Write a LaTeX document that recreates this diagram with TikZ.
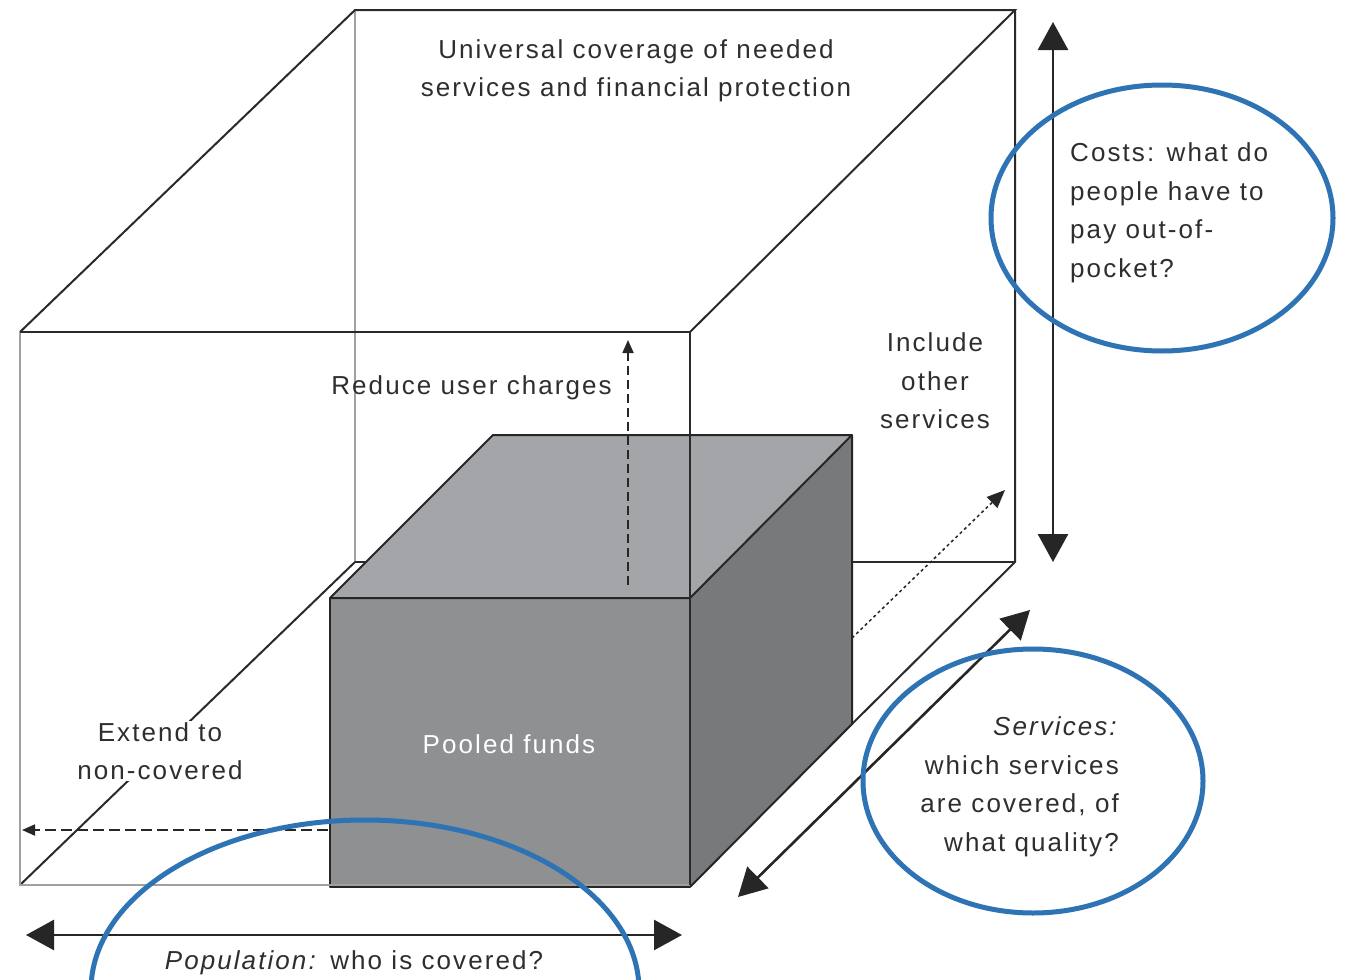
\documentclass[tikz,border=0pt]{standalone}
\usepackage{fontspec}
\setmainfont{Liberation Sans}[LetterSpace=8]
\usetikzlibrary{arrows.meta}
\definecolor{ink}{HTML}{2E2E2E}
\definecolor{wire}{HTML}{2A2A2A}
\definecolor{wirelight}{HTML}{A0A0A0}
\definecolor{frontgray}{HTML}{8E9092}
\definecolor{topgray}{HTML}{A3A5A8}
\definecolor{sidegray}{HTML}{77797B}
\definecolor{ringblue}{HTML}{2E74B5}
\begin{document}
\begin{tikzpicture}[x=1pt,y=-1pt,
  lbl/.style={text=ink,font=\fontsize{26}{38.5}\selectfont,inner sep=2pt},
  wireedge/.style={draw=wire,line width=2pt},
  faintedge/.style={draw=wirelight,line width=2.6pt},
  boxedge/.style={draw=black!85,line width=2pt,line join=round},
  dimarrow/.style={draw=black!85,line width=2.6pt,
    {Triangle[length=28pt,width=30pt]}-{Triangle[length=28pt,width=30pt]}},
  hintarrow/.style={draw=black!85,line width=1.8pt,-{Triangle[length=13pt,width=11pt]}},
  ring/.style={draw=ringblue,line width=5pt}]
\useasboundingbox (0,0) rectangle (1345,980);
\fill[white] (0,0) rectangle (1345,980);

% outer (target) box corners
\coordinate (FTL) at (20,332);  \coordinate (FTR) at (690,332);
\coordinate (FBL) at (20,885);  \coordinate (FBR) at (690,885);
\coordinate (BTL) at (355,10);  \coordinate (BTR) at (1015,10);
\coordinate (BBL) at (355,562); \coordinate (BBR) at (1015,562);

% inner (pooled funds) box corners
\coordinate (pTL) at (330,598); \coordinate (pTR) at (690,598);
\coordinate (pBL) at (330,887); \coordinate (pBR) at (690,887);
\coordinate (qTL) at (493,435); \coordinate (qTR) at (852,435);
\coordinate (qBR) at (852,724);

% hidden edges of the outer box
\draw[faintedge] (BTL) -- (BBL);
\draw[wireedge] (BBL) -- (BBR);
\draw[wireedge] (FBL) -- (BBL);
% back and top edges of the outer box
\draw[wireedge] (FTL) -- (BTL) -- (BTR) -- (FTR);
\draw[wireedge] (BTR) -- (BBR) -- (FBR);

% pooled funds box
\fill[topgray] (pTL) -- (qTL) -- (qTR) -- (pTR) -- cycle;
\fill[sidegray] (pTR) -- (qTR) -- (qBR) -- (pBR) -- cycle;
\fill[frontgray] (pTL) rectangle (pBR);
\draw[boxedge] (pTL) -- (qTL) -- (qTR) -- (pTR) -- cycle;
\draw[boxedge] (qTR) -- (qBR) -- (pBR);
\draw[boxedge] (pTL) rectangle (pBR);

% front face of the outer box
\draw[faintedge] (FTL) -- (FBL) -- (FBR);
\draw[wireedge] (FTL) -- (FTR) -- (FBR);

% labels
\node[lbl,align=center] (title) at (636,71) {Universal coverage of needed\\services and financial protection};
\node[lbl,anchor=east] (reduce) at (614,388) {Reduce user charges};
\node[lbl,align=center] (include) at (935,381) {Include\\other\\services};
\node[lbl,align=center,fill=white,inner sep=1pt] (extend) at (160,751) {Extend to\\non-covered};
\node[lbl,text=white] (pooled) at (509,744) {Pooled funds};
\node[lbl,align=left,anchor=west] (costs) at (1068,213) {Costs: what do\\people have to\\pay out-of-\\pocket?};
\node[lbl,align=right,anchor=east] (services) at (1121,787) {\textit{Services:}\\which services\\are covered, of\\what quality?};
\node[lbl] (population) at (354,963) {\textit{Population:} who is covered?};

% policy directions
\coordinate (upS) at (628,585);   \coordinate (upE) at (628,340);
\coordinate (leftS) at (328,830); \coordinate (leftE) at (22,830);
\coordinate (diaS) at (852,638);  \coordinate (diaE) at (1005,490);
\draw[hintarrow,dash pattern=on 9pt off 5pt] (upS) -- (upE);
\draw[hintarrow,dash pattern=on 11pt off 5pt] (leftS) -- (leftE);
\draw[hintarrow,line width=1.5pt,dash pattern=on 3pt off 3pt,
      -{Triangle[length=18pt,width=15pt]}] (diaS) -- (diaE);

% dimensions
\coordinate (costA) at (1053,22);  \coordinate (costB) at (1053,562);
\coordinate (servA) at (738,897);  \coordinate (servB) at (1030,610);
\coordinate (popA) at (26,935);    \coordinate (popB) at (682,935);
\draw[dimarrow] (costA) -- (costB);
\draw[dimarrow] (servA) -- (servB);
\draw[dimarrow] (popA) -- (popB);

% highlighted dimensions
\draw[ring] (1162,218) ellipse [x radius=171pt,y radius=133pt];
\draw[ring] (1033,781) ellipse [x radius=170pt,y radius=132pt];
\draw[ring] (365,990) ellipse [x radius=274pt,y radius=170pt];
\end{tikzpicture}
\end{document}
